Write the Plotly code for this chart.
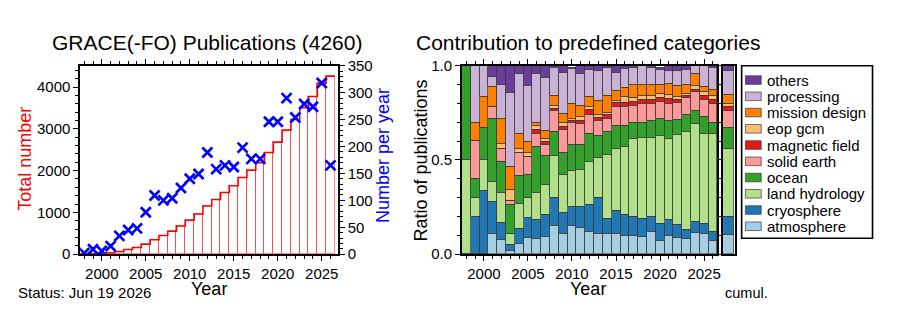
import plotly.graph_objects as go

W, H = 909, 314
FONT = "Liberation Sans, Arial, Helvetica, sans-serif"

years = list(range(1998, 2027))
per_year = [2, 9, 6, 15, 34, 45, 48, 78, 109, 100, 104, 123, 140, 149, 189,
            158, 165, 162, 198, 177, 177, 246, 246, 290, 254, 279, 274, 318, 165]
cumulative = [2, 11, 17, 32, 66, 111, 159, 237, 346, 446, 550, 673, 813, 962, 1151,
              1309, 1474, 1636, 1834, 2011, 2188, 2434, 2680, 2970, 3224, 3503, 3777, 4095, 4260]

categories = ["atmosphere", "cryosphere", "land hydrology", "ocean", "solid earth",
              "magnetic field", "eop gcm", "mission design", "processing", "others"]
colors = ["#a6cee3", "#1f78b4", "#b2df8a", "#33a02c", "#fb9a99",
          "#e31a1c", "#fdbf6f", "#ff7f00", "#cab2d6", "#6a3d9a"]

atmosphere     = [0, 0, 0, .11, .075, .02, .055, .085, .08, .09, .15, .11, .15, .14, .12, .11, .11, .11, .10, .10, .09, .12, .07, .10, .085, .08, .115, .11, .07]
cryosphere     = [0, .20, .335, .17, .09, .03, .08, .11, .105, .12, .15, .11, .10, .11, .14, .19, .08, .12, .11, .10, .10, .08, .09, .08, .07, .05, .055, .05, .05]
land_hydrology = [.50, .10, .165, .105, .16, .06, .13, .105, .14, .16, .22, .20, .19, .20, .23, .21, .34, .33, .36, .41, .43, .42, .47, .43, .48, .52, .52, .48, .52]
ocean          = [.50, .10, .17, .335, .165, .15, .15, .12, .245, .15, .13, .12, .14, .13, .15, .12, .12, .12, .11, .09, .08, .09, .09, .10, .08, .09, .07, .09, .06]
solid_earth    = [0, .20, 0, .06, .07, .025, .125, .095, .07, .06, .11, .12, .115, .11, .10, .08, .07, .10, .10, .09, .10, .09, .09, .09, .09, .09, .10, .09, .10]
magnetic_field = [0, 0, 0, 0, 0, 0, 0, 0, .02, .015, .012, .015, .012, .02, .025, .014, .018, .025, .025, .02, .02, .02, .02, .025, .015, .01, .015, .02, .02]
eop_gcm        = [0, 0, 0, 0, .025, .055, .02, .025, .02, .02, .018, .02, .013, .02, .02, .018, .012, .01, .03, .02, .02, .02, .02, .02, .015, .01, .02, .02, .02]
mission_design = [0, .10, .165, .11, .135, .125, .08, .055, .02, .04, .05, .05, .08, .06, .05, .074, .09, .05, .05, .07, .06, .06, .05, .06, .06, .05, .06, .03, .03]
processing     = [0, .30, .165, .05, .18, .39, .32, .30, .26, .28, .15, .22, .185, .17, .145, .158, .15, .10, .10, .09, .10, .09, .08, .07, .08, .08, .045, .11, .12]
others         = [0, 0, 0, .06, .10, .145, .04, .105, .04, .065, .01, .035, .005, .04, .02, .026, .01, .035, .015, .01, 0, .01, .01, .025, .025, .02, 0, 0, .01]
cumul_share    = [.105, .095, .36, .11, .09, .025, .012, .05, .125, .028]

shares = [atmosphere, cryosphere, land_hydrology, ocean, solid_earth,
          magnetic_field, eop_gcm, mission_design, processing, others]

# layout positions are given in the reference picture's pixels; the picture
# frames the page with an 8 px inset, so map them back onto the page's paper
INSET, VIS_W, VIS_H = 8, 893, 298


def fx(px):
    return (px - INSET) / VIS_W


def fy(py):
    return 1 - (py - INSET) / VIS_H


fig = go.Figure()

# ---- left chart: cumulative step bars ----
fig.add_trace(go.Bar(
    x=years, y=cumulative, width=1,
    marker=dict(color="white", line=dict(color="rgba(255,0,0,0.45)", width=1)),
    xaxis="x", yaxis="y", showlegend=False, hoverinfo="skip"))
edges = [y - 0.5 for y in years] + [years[-1] + 0.5]
fig.add_trace(go.Scatter(
    x=edges, y=cumulative + [cumulative[-1]], mode="lines",
    line=dict(color="#ff0000", width=1.5, shape="hv"),
    xaxis="x", yaxis="y", showlegend=False))
fig.add_trace(go.Scatter(
    x=years, y=per_year, mode="markers",
    marker=dict(symbol="x-thin", size=10, color="#0000ff",
                line=dict(color="#0000ff", width=2.7)),
    xaxis="x", yaxis="y2", showlegend=False))

# ---- right chart: stacked ratios ----
for name, col, vals, cv in zip(categories, colors, shares, cumul_share):
    fig.add_trace(go.Bar(
        x=years, y=vals, width=1, name=name,
        marker=dict(color=col, line=dict(color="#3a3a3a", width=0.7)),
        xaxis="x2", yaxis="y3", showlegend=False))
    fig.add_trace(go.Bar(
        x=["cumul"], y=[cv], name=name,
        marker=dict(color=col, line=dict(color="#3a3a3a", width=0.7)),
        xaxis="x3", yaxis="y4", showlegend=False))

axis_common = dict(showline=True, linecolor="black", linewidth=1.6,
                   ticks="outside", tickcolor="black", tickwidth=1.2, ticklen=5,
                   showgrid=False, zeroline=False,
                   tickfont=dict(size=15, color="black", family=FONT))
minor_common = dict(ticks="outside", ticklen=3, tickcolor="black", tickwidth=1, showgrid=False)

y_dom = [fy(254), fy(65)]

fig.update_layout(
    width=W, height=H, autosize=False,
    margin=dict(l=0, r=0, t=0, b=0),
    paper_bgcolor="white", plot_bgcolor="white",
    barmode="stack", bargap=0,
    font=dict(family=FONT, color="black"),
    xaxis=dict(axis_common, domain=[fx(87), fx(341)], range=[1997.54, 2026.83],
               tick0=2000, dtick=5, mirror="ticks", anchor="y",
               minor=dict(minor_common, dtick=1)),
    yaxis=dict(axis_common, domain=y_dom, range=[0, 4510], dtick=1000,
               anchor="x", minor=dict(minor_common, dtick=200)),
    yaxis2=dict(axis_common, range=[0, 350], dtick=50, overlaying="y", side="right",
                anchor="x", minor=dict(minor_common, dtick=10)),
    xaxis2=dict(axis_common, domain=[fx(463.3), fx(715)], range=[1997.5, 2026.5],
                tick0=2000, dtick=5, mirror="ticks", anchor="y3",
                minor=dict(minor_common, dtick=1)),
    yaxis3=dict(axis_common, domain=y_dom, range=[0, 1], dtick=0.5, tickformat=".1f",
                mirror="ticks", anchor="x2", minor=dict(minor_common, dtick=0.1)),
    xaxis3=dict(domain=[fx(720.7), fx(732)], showline=True, linecolor="black", linewidth=1.6,
                mirror=True, showticklabels=False, ticks="", showgrid=False, zeroline=False,
                anchor="y4"),
    yaxis4=dict(domain=y_dom, range=[0, 1], showline=True, linecolor="black", linewidth=1.6,
                mirror=True, showticklabels=False, ticks="", showgrid=False, zeroline=False,
                anchor="x3"),
)

ann = []


def text(x, y, s, size, color="black", angle=0, xanchor="center", yanchor="middle"):
    ann.append(dict(x=fx(x), y=fy(y), xref="paper", yref="paper", text=s, showarrow=False,
                    font=dict(size=size, color=color, family=FONT), textangle=angle,
                    xanchor=xanchor, yanchor=yanchor, borderpad=0))


text(212, 42, "GRACE(-FO) Publications (4260)", 21)
text(588, 42, "Contribution to predefined categories", 21)
text(33, 158, "Total number", 18, color="#ff0000", angle=-90)
text(385, 155, "Number per year", 18, color="#0000ff", angle=-90)
text(214, 289, "Year", 18)
text(588, 289, "Year", 18)
text(423, 160, "Ratio of publications", 18, angle=-90)
text(25, 292, "Status: Jun 19 2026", 15, xanchor="left")
text(722, 293, "cumul.", 14.5, xanchor="left")

shapes = []
# legend box
shapes.append(dict(type="rect", xref="paper", yref="paper", x0=fx(739), x1=fx(868),
                   y0=fy(238), y1=fy(65), line=dict(color="black", width=1.6),
                   fillcolor="rgba(0,0,0,0)"))
for i, (name, col) in enumerate(zip(categories[::-1], colors[::-1])):
    yc = 79.3 + i * 16.3
    shapes.append(dict(type="rect", xref="paper", yref="paper", x0=fx(742.7), x1=fx(758.3),
                       y0=fy(yc + 4.3), y1=fy(yc - 4.3), line=dict(color="#3a3a3a", width=0.7),
                       fillcolor=col))
    text(763.5, yc, name, 15, xanchor="left")

fig.update_layout(annotations=ann, shapes=shapes)
fig.write_html("out.html")
